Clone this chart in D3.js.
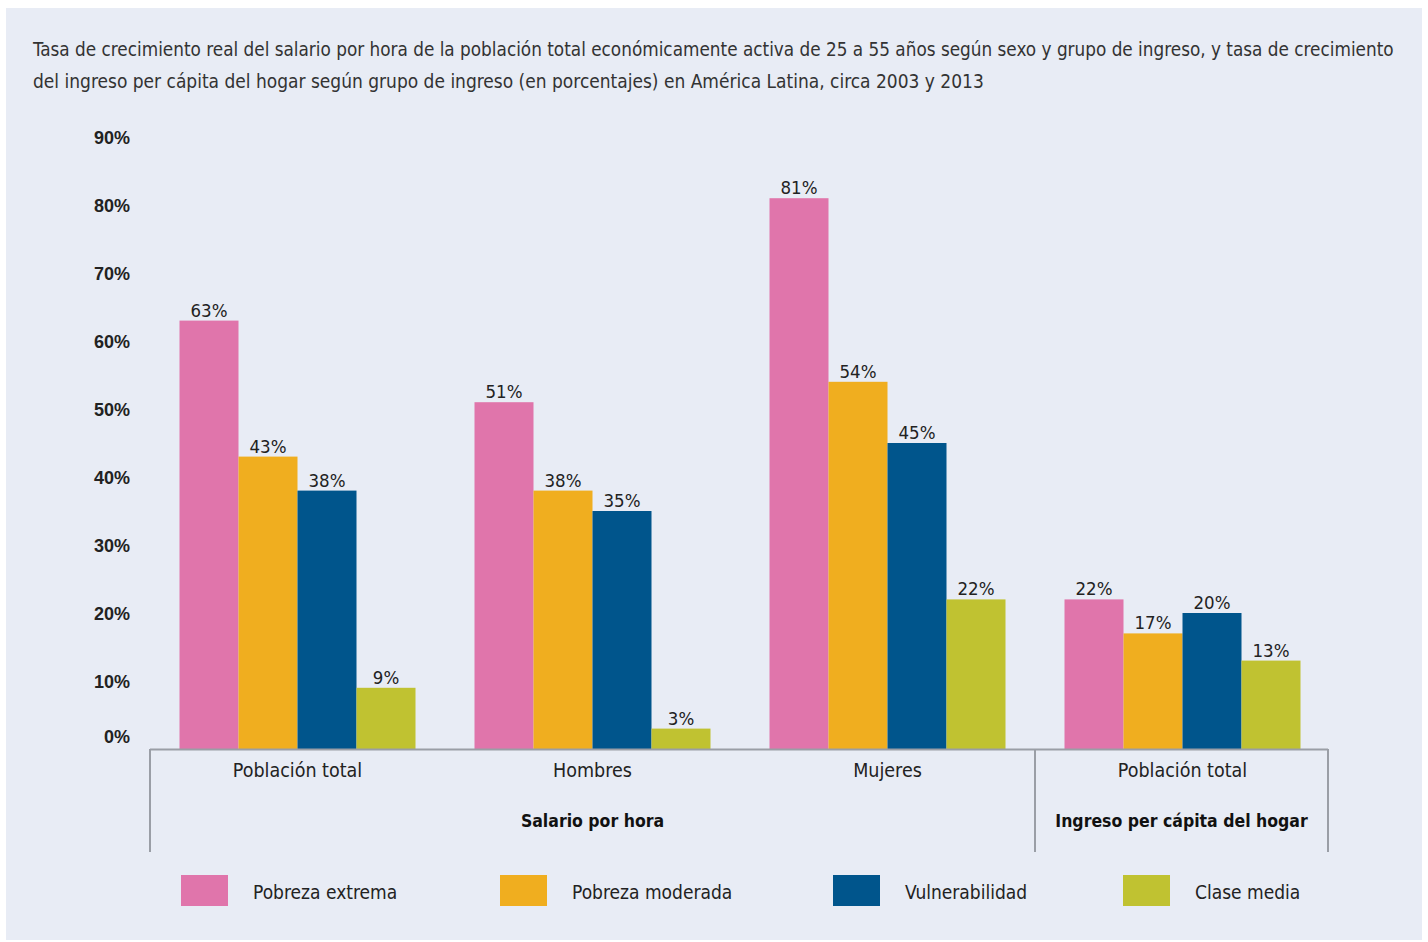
<!DOCTYPE html>
<html>
<head>
<meta charset="utf-8">
<script src="https://cdn.jsdelivr.net/npm/d3@7"></script>
<style>
  html, body { margin: 0; padding: 0; background: #ffffff; }
  svg { display: block; }
</style>
</head>
<body>
<svg id="chart" width="1428" height="942"></svg>
<script>
// ---- Data ----
const categories = ["Población total", "Hombres", "Mujeres", "Población total"];
const series = ["Pobreza extrema", "Pobreza moderada", "Vulnerabilidad", "Clase media"];
const pobrezaExtrema   = [63, 51, 81, 22];
const pobrezaModerada  = [43, 38, 54, 17];
const vulnerabilidad   = [38, 35, 45, 20];
const claseMedia       = [9, 3, 22, 13];
const yTicks = [0, 10, 20, 30, 40, 50, 60, 70, 80, 90];
const groupLabels = ["Salario por hora", "Ingreso per cápita del hogar"];
const titleLines = [
  "Tasa de crecimiento real del salario por hora de la población total económicamente activa de 25 a 55 años según sexo y grupo de ingreso, y tasa de crecimiento",
  "del ingreso per cápita del hogar según grupo de ingreso (en porcentajes) en América Latina, circa 2003 y 2013"
];
const colors = ["#e075ab", "#f0ae1f", "#00558c", "#c0c231"];

const seriesValues = [pobrezaExtrema, pobrezaModerada, vulnerabilidad, claseMedia];

const svg = d3.select("#chart");
const FONT = '"Liberation Sans Narrow", "DejaVu Sans Condensed", "Liberation Sans", sans-serif';

// panel background
svg.append("rect").attr("x", 6).attr("y", 8).attr("width", 1416).attr("height", 932).attr("fill", "#e8ecf5");

// title
const title = svg.append("g").selectAll("text").data(titleLines).join("text")
  .attr("x", 33).attr("y", (d, i) => 56 + i * 32)
  .attr("font-family", FONT).attr("font-size", 20).attr("fill", "#333")
  .text(d => d);
// fit first line to reference width
title.each(function(d, i) {
  const target = i === 0 ? 1362 : 951;
  const w = this.getComputedTextLength();
  const fs = Math.min(22, 20 * target / w);
  d3.select(this).attr("font-size", fs);
});

const x0 = 150, x1 = 1330, yBase = 749, yTop = 137;
const x = d3.scaleBand().domain(d3.range(categories.length)).range([x0, x1]).paddingInner(0.2).paddingOuter(0.1);
const xs = d3.scaleBand().domain(d3.range(series.length)).range([0, x.bandwidth()]);
const y = d3.scaleLinear().domain([0, 90]).range([yBase, yTop]);

// y axis
const yAxis = svg.append("g").attr("transform", "translate(130,0)")
  .call(d3.axisLeft(y).tickValues(yTicks).tickSize(0).tickPadding(0).tickFormat(d => d + "%"));
yAxis.select(".domain").remove();
yAxis.selectAll("text")
  .attr("font-family", '"Liberation Sans", Arial, sans-serif')
  .attr("font-size", 18).attr("font-weight", "bold").attr("fill", "#222")
  .attr("dy", d => d === 0 ? "-0.35em" : "0.38em");

// bars
const groups = svg.append("g").selectAll("g").data(categories).join("g")
  .attr("transform", (d, i) => `translate(${x(i)},0)`);
groups.each(function(cat, ci) {
  const g = d3.select(this);
  series.forEach((s, si) => {
    const v = seriesValues[si][ci];
    g.append("rect")
      .attr("x", xs(si)).attr("y", y(v))
      .attr("width", xs.bandwidth()).attr("height", y(0) - y(v))
      .attr("fill", colors[si]);
    g.append("text")
      .attr("x", xs(si) + xs.bandwidth() / 2).attr("y", y(v) - 4)
      .attr("text-anchor", "middle")
      .attr("font-family", FONT).attr("font-size", 18.5).attr("fill", "#222")
      .text(v + "%");
  });
});

// x axis line
const axisColor = "#9a9ea6";
svg.append("line").attr("x1", x0).attr("x2", 1328).attr("y1", yBase + 0.5).attr("y2", yBase + 0.5)
  .attr("stroke", axisColor).attr("stroke-width", 2);
// separators
const sepX = [x0, x(3) - x.step() * x.paddingInner() / 2, 1328];
svg.append("g").selectAll("line").data(sepX).join("line")
  .attr("x1", d => d).attr("x2", d => d).attr("y1", yBase).attr("y2", 852)
  .attr("stroke", axisColor).attr("stroke-width", 2);

// category labels
svg.append("g").selectAll("text").data(categories).join("text")
  .attr("x", (d, i) => x(i) + x.bandwidth() / 2).attr("y", 777)
  .attr("text-anchor", "middle")
  .attr("font-family", FONT).attr("font-size", 19.5).attr("fill", "#222")
  .text(d => d);

// group labels
svg.append("g").selectAll("text").data(groupLabels).join("text")
  .attr("x", (d, i) => (sepX[i] + sepX[i + 1]) / 2)
  .attr("y", 827)
  .attr("text-anchor", "middle")
  .attr("font-family", FONT).attr("font-size", 17.5).attr("font-weight", "bold").attr("fill", "#111")
  .text(d => d);

// legend
const legendX = [181, 500, 833, 1123];
const leg = svg.append("g").selectAll("g").data(series).join("g")
  .attr("transform", (d, i) => `translate(${legendX[i]},875)`);
leg.append("rect").attr("width", 47).attr("height", 31).attr("fill", (d, i) => colors[i]);
leg.append("text").attr("x", 72).attr("y", 24)
  .attr("font-family", FONT).attr("font-size", 19).attr("fill", "#222")
  .text(d => d);
</script>
</body>
</html>
